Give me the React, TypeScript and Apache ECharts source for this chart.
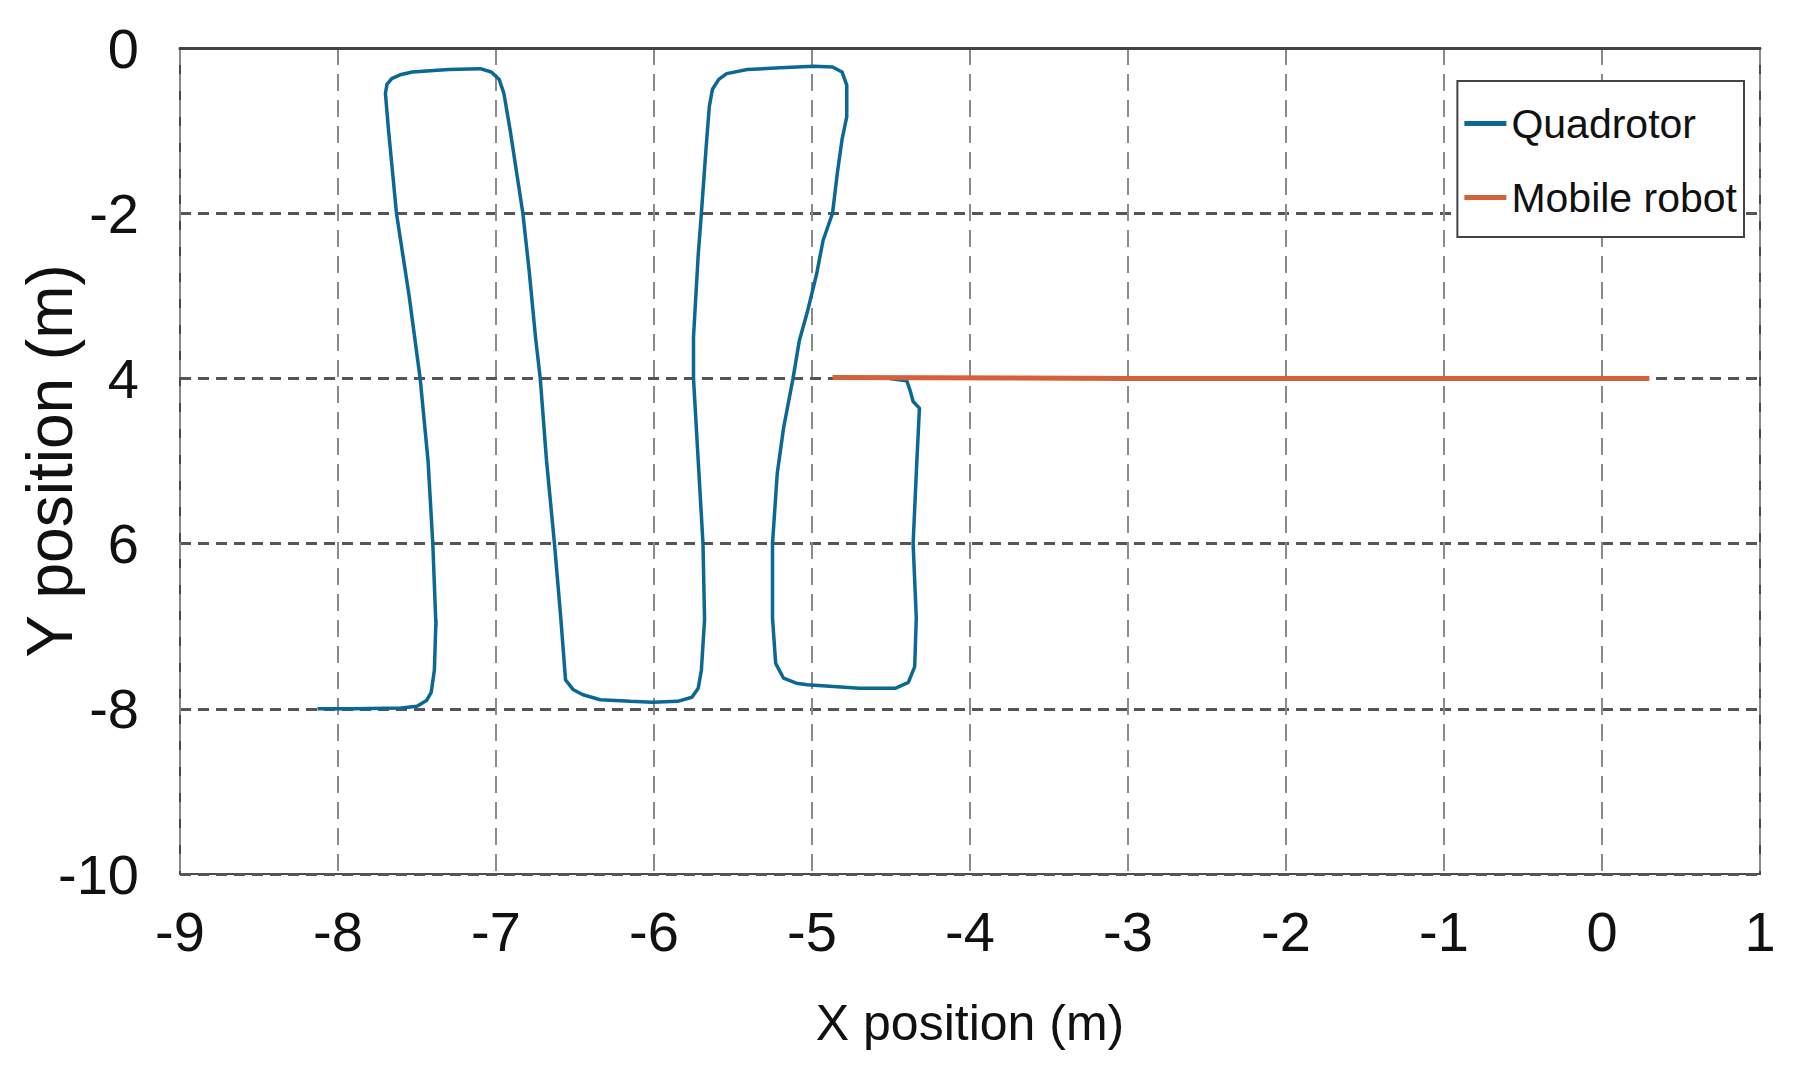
import React, { useEffect, useRef } from "react";
import * as echarts from "echarts";

const xTicks = [-9, -8, -7, -6, -5, -4, -3, -2, -1, 0, 1];
const yTickValues = [0, -2, -4, -6, -8, -10];
const yTickLabels = ["0", "-2", "4", "6", "-8", "-10"];

const seriesNames = ["Quadrotor", "Mobile robot"];

const quadX = [
  -8.13, -7.9, -7.6, -7.5, -7.44, -7.41, -7.39, -7.38, -7.38, -7.4, -7.43, -7.48, -7.55, -7.63, -7.68, -7.7,
  -7.69, -7.66, -7.6, -7.53, -7.3, -7.1, -7.03, -6.98, -6.95, -6.91, -6.87, -6.83, -6.79, -6.75, -6.72,
  -6.68, -6.63, -6.59, -6.57, -6.56, -6.51, -6.45, -6.34, -6.15, -6.01, -5.85, -5.76, -5.72, -5.7, -5.68,
  -5.69, -5.72, -5.75, -5.75, -5.72, -5.7, -5.67, -5.65, -5.63, -5.59, -5.54, -5.41, -5.2, -4.99, -4.87,
  -4.81, -4.78, -4.78, -4.81, -4.84, -4.87, -4.93, -4.97, -5.03, -5.08, -5.12, -5.18, -5.22, -5.25, -5.25,
  -5.23, -5.18, -5.1, -5.03, -4.7, -4.47, -4.39, -4.35, -4.34, -4.36, -4.34, -4.32, -4.36, -4.38, -4.4,
  -4.51,
];
const quadY = [
  -8.0, -8.0, -7.99, -7.97, -7.9, -7.8, -7.53, -6.92, -7.0, -6.0, -5.0, -4.0, -3.0, -2.0, -1.0, -0.55,
  -0.44, -0.37, -0.32, -0.29, -0.26, -0.25, -0.29, -0.38, -0.55, -1.0, -1.5, -2.0, -2.7, -3.5, -4.0,
  -5.0, -6.0, -6.9, -7.4, -7.65, -7.77, -7.83, -7.89, -7.91, -7.92, -7.91, -7.86, -7.75, -7.53, -6.92,
  -6.0, -5.0, -4.0, -3.5, -2.5, -2.0, -1.2, -0.71, -0.5, -0.38, -0.31, -0.26, -0.24, -0.22, -0.23,
  -0.29, -0.45, -0.83, -1.11, -1.52, -2.0, -2.33, -2.73, -3.2, -3.54, -4.0, -4.6, -5.15, -6.0, -6.9,
  -7.45, -7.63, -7.69, -7.71, -7.75, -7.75, -7.68, -7.49, -6.9, -6.0, -5.15, -4.36, -4.28, -4.14, -4.03,
  -4.0,
];

const robotX = [-4.87, -3.0, -1.0, 0.3];
const robotY = [-3.99, -4.0, -4.0, -4.0];

const labelFont = "'Liberation Sans', Arial, sans-serif";

export default function App() {
  const ref = useRef<HTMLDivElement>(null);

  useEffect(() => {
    if (!ref.current) return;
    const chart = echarts.init(ref.current, undefined, { renderer: "svg" });
    const quadData = quadX.map((x, i) => [x, quadY[i]]);
    const robotData = robotX.map((x, i) => [x, robotY[i]]);
    chart.setOption({
      animation: false,
      backgroundColor: "#ffffff",
      grid: {
        left: 180,
        right: 45,
        top: 48,
        bottom: 207,
        show: true,
        borderColor: "#4a4a4a",
        borderWidth: 2,
        containLabel: false,
        outerBoundsMode: "none",
      },
      legend: {
        data: seriesNames,
        orient: "vertical",
        right: 61,
        top: 81,
        padding: [22, 7, 19, 7],
        borderColor: "#444",
        borderWidth: 2,
        backgroundColor: "#ffffff",
        icon: "rect",
        itemWidth: 42,
        itemHeight: 5,
        itemGap: 33,
        textStyle: { fontFamily: labelFont, fontSize: 41, color: "#111" },
      },
      xAxis: {
        type: "value",
        min: -9,
        max: 1,
        interval: 1,
        name: "X position (m)",
        nameLocation: "middle",
        nameGap: 124,
        nameMoveOverlap: false,
        nameTextStyle: { fontFamily: labelFont, fontSize: 50, color: "#111" },
        axisLine: { show: true, lineStyle: { color: "#444", width: 3 } },
        axisTick: { show: false },
        axisLabel: {
          fontFamily: labelFont,
          fontSize: 56,
          color: "#111",
          margin: 29,
          formatter: (v: number) => (xTicks.includes(v) ? String(v) : ""),
        },
        splitLine: { show: true, lineStyle: { color: "#8a8a8a", width: 2, type: [17, 9] } },
      },
      yAxis: {
        type: "value",
        min: -10,
        max: 0,
        interval: 2,
        name: "Y position (m)",
        nameLocation: "middle",
        nameGap: 98,
        nameMoveOverlap: false,
        nameTextStyle: { fontFamily: labelFont, fontSize: 64, color: "#111" },
        axisLine: { show: false },
        axisTick: { show: false },
        axisLabel: {
          fontFamily: labelFont,
          fontSize: 56,
          color: "#111",
          margin: 41,
          formatter: (v: number) => {
            const i = yTickValues.indexOf(v);
            return i >= 0 ? yTickLabels[i] : "";
          },
        },
        splitLine: { show: true, lineStyle: { color: "#555", width: 3, type: [11, 7] } },
      },
      series: [
        {
          name: seriesNames[0],
          type: "line",
          data: quadData,
          showSymbol: false,
          symbol: "none",
          color: "#0b6894",
          lineStyle: { width: 3.5, color: "#0b6894" },
        },
        {
          name: seriesNames[1],
          type: "line",
          data: robotData,
          showSymbol: false,
          symbol: "none",
          color: "#d6603a",
          lineStyle: { width: 5, color: "#d6603a" },
        },
      ],
    });
    return () => chart.dispose();
  }, []);

  return (
    <div
      ref={ref}
      style={{ position: "absolute", left: 0, top: 0, width: 1805, height: 1081, background: "#fff" }}
    />
  );
}
